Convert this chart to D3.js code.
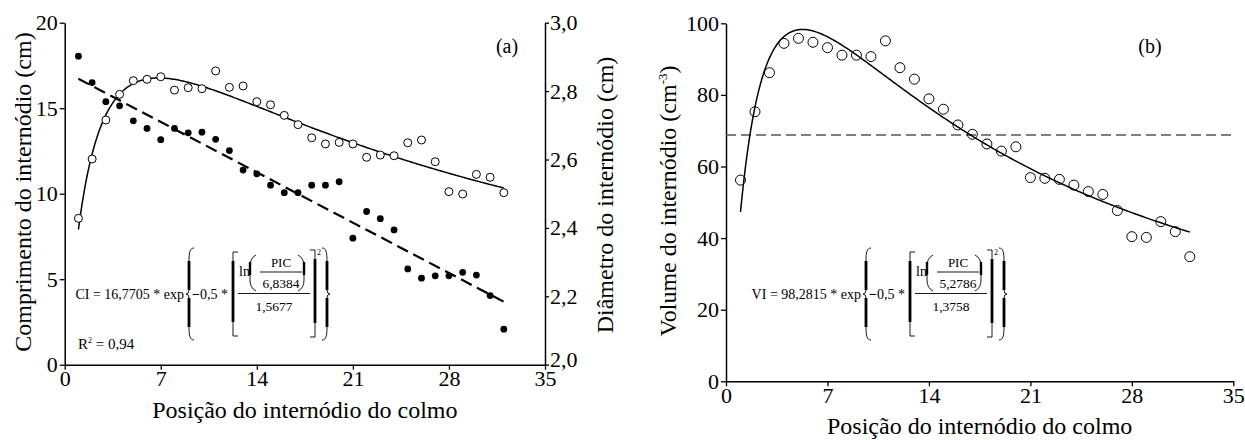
<!DOCTYPE html>
<html><head><meta charset="utf-8">
<script src="https://cdn.jsdelivr.net/npm/d3@7"></script>
<style>
body{margin:0;background:#fff}
text{font-family:"Liberation Serif","Times New Roman",serif;fill:#000}
</style>
</head><body>
<svg id="chart" width="1245" height="440"></svg>
<script>
// Internode position along the culm (1 = base)
const positions = [1,2,3,4,5,6,7,8,9,10,11,12,13,14,15,16,17,18,19,20,21,22,23,24,25,26,27,28,29,30,31,32];
// Internode length (cm) - left axis of panel (a)
const lengthCm = [8.56,12.03,14.31,15.81,16.61,16.69,16.84,16.06,16.20,16.14,17.18,16.22,16.30,15.38,15.20,14.58,
                  14.04,13.27,12.91,13.00,12.91,12.13,12.26,12.22,12.98,13.14,11.87,10.12,9.98,11.13,10.96,10.06];
// Internode diameter (cm) - right axis of panel (a)
const diameterCm = [2.902,2.825,2.769,2.757,2.713,2.691,2.658,2.691,2.678,2.680,2.659,2.626,2.569,2.558,2.525,2.503,
                    2.503,2.525,2.525,2.535,2.370,2.448,2.427,2.394,2.280,2.253,2.260,2.260,2.270,2.262,2.202,2.104];
// Internode volume (cm3) - panel (b)
const volumeCm3 = [56.2,75.3,86.2,94.4,95.8,94.7,93.2,91.1,91.1,90.7,95.1,87.6,84.4,78.9,76.0,71.6,
                   69.0,66.3,64.3,65.5,56.9,56.7,56.4,54.8,53.0,52.2,47.7,40.4,40.2,44.6,41.8,34.8];

// Log-normal fits: [a, x0, b] in y = a*exp(-0.5*(ln(x/x0)/b)^2)
const lengthFit = [16.7705, 6.8384, 1.5677];
const volumeFit = [98.2815, 5.2786, 1.3758];
// Linear fit of diameter, value at first and last position
const diameterFitEnds = [2.836, 2.184];
// Reference level of volume
const volumeRef = 68.8;

const xTicks = [0,7,14,21,28,35];
const lengthTicks = [0,5,10,15,20];
const diameterTicks = [2.0,2.2,2.4,2.6,2.8,3.0];
const volumeTicks = [0,20,40,60,80,100];

const svg = d3.select("#chart");
const comma = f => (v => d3.format(f)(v).replace(".", ","));
const logNormal = p => (x => p[0]*Math.exp(-0.5*Math.pow(Math.log(x/p[1])/p[2],2)));
const curveX = d3.range(1, 32.001, 0.1);
const TITLE = 24, TICK = 22;

function styleAxis(g){
  g.selectAll("path.domain").attr("stroke","#000").attr("stroke-width",1.5);
  g.selectAll(".tick line").attr("stroke","#000").attr("stroke-width",1.3);
  g.selectAll(".tick text").attr("font-size",TICK).attr("font-family",'"Liberation Serif",serif').attr("fill","#000");
}

// ---------- equation drawing helpers ----------
function brace(g, x, top, bot, dir){
  const mid=(top+bot)/2, h=5*dir;
  g.append("path").attr("fill","none").attr("stroke","#000").attr("stroke-width",0.9)
    .attr("d",`M${x+h},${top} C${x+h*0.2},${top} ${x},${top+4} ${x},${top+13}
               M${x},${mid-4} Q${x},${mid} ${x-3*dir},${mid} Q${x},${mid} ${x},${mid+4}
               M${x},${bot-13} C${x},${bot-4} ${x+h*0.2},${bot} ${x+h},${bot}`);
  g.append("path").attr("fill","none").attr("stroke","#000").attr("stroke-width",2.8)
    .attr("d",`M${x},${top+13} L${x},${mid-4} M${x},${mid+4} L${x},${bot-13}`);
}
function bracket(g, x, top, bot, dir){
  g.append("path").attr("fill","none").attr("stroke","#000").attr("stroke-width",0.9)
    .attr("d",`M${x+5*dir},${top} L${x},${top} L${x},${bot} L${x+5*dir},${bot}`);
  g.append("path").attr("fill","none").attr("stroke","#000").attr("stroke-width",2.8)
    .attr("d",`M${x},${top+9} L${x},${bot-14}`);
}
function paren(g, x, top, bot, dir){
  const mid=(top+bot)/2;
  g.append("path").attr("fill","none").attr("stroke","#000").attr("stroke-width",0.9)
    .attr("d",`M${x+6*dir},${top} Q${x},${top+3} ${x},${top+11} L${x},${bot-11} Q${x},${bot-3} ${x+6*dir},${bot}`);
  g.append("path").attr("fill","none").attr("stroke","#000").attr("stroke-width",2.4)
    .attr("d",`M${x},${top+7} L${x},${mid+2}`);
}
function equation(g, prefix, bx, p){
  const top=248, bot=340, mid=294;
  g.append("text").attr("x",bx-5).attr("y",mid+5).attr("text-anchor","end").attr("font-size",14).text(prefix);
  brace(g, bx, top, bot, 1);
  const t = g.append("text").attr("x",bx+3).attr("y",mid+5).attr("font-size",14);
  t.append("tspan").attr("font-weight","bold").text("−");
  t.append("tspan").text("0,5 *");
  bracket(g, bx+44, 252, 336, 1);
  g.append("text").attr("x",bx+50).attr("y",276).attr("font-size",14).text("ln");
  paren(g, bx+61, 255, 291, 1);
  g.append("text").attr("x",bx+92).attr("y",267).attr("text-anchor","middle").attr("font-size",13).text("PIC");
  g.append("line").attr("x1",bx+71).attr("x2",bx+113).attr("y1",272).attr("y2",272).attr("stroke","#000").attr("stroke-width",0.9);
  g.append("text").attr("x",bx+92).attr("y",287.5).attr("text-anchor","middle").attr("font-size",13.5).text(comma(".4f")(p[1]));
  paren(g, bx+115, 255, 291, -1);
  g.append("line").attr("x1",bx+49).attr("x2",bx+121).attr("y1",293.5).attr("y2",293.5).attr("stroke","#000").attr("stroke-width",0.9);
  g.append("text").attr("x",bx+85).attr("y",311).attr("text-anchor","middle").attr("font-size",13.5).text(comma(".4f")(p[2]));
  bracket(g, bx+126, 250, 337, -1);
  g.append("text").attr("x",bx+128).attr("y",255).attr("font-size",8).text("2");
  brace(g, bx+138, 248, 340, -1);
}

// ---------- Panel (a) ----------
{
  const x = d3.scaleLinear().domain([0,35]).range([64.7,545]);
  const yL = d3.scaleLinear().domain([0,20]).range([364.7,22.7]);
  const yR = d3.scaleLinear().domain([2,3]).range([364.7,22.7]);
  const g = svg.append("g");

  g.append("g").attr("transform",`translate(0,${yL(0)})`)
    .call(d3.axisBottom(x).tickValues(xTicks).tickSize(5).tickSizeOuter(0).tickPadding(1)).call(styleAxis);
  g.append("g").attr("transform",`translate(${x(0)},0)`)
    .call(d3.axisLeft(yL).tickValues(lengthTicks).tickSize(5).tickSizeOuter(0).tickPadding(2)).call(styleAxis);
  const right = g.append("g").attr("transform",`translate(${x(35)},0)`)
    .call(d3.axisRight(yR).tickValues(diameterTicks).tickFormat(comma(".1f")).tickSize(4).tickSizeOuter(0).tickPadding(1)).call(styleAxis);
  // lift the bottom label a little so it clears the "35" below it
  right.selectAll(".tick text").filter(d => d === 2).attr("dy","0.1em");

  // diameter linear fit
  g.append("path").datum([positions[0], positions[positions.length-1]])
    .attr("fill","none").attr("stroke","#000").attr("stroke-width",2.2).attr("stroke-dasharray","12,6")
    .attr("d", d3.line().x(d=>x(d)).y((d,i)=>yR(diameterFitEnds[i])));
  // length fit
  g.append("path").datum(curveX).attr("fill","none").attr("stroke","#000").attr("stroke-width",1.5)
    .attr("d", d3.line().x(d=>x(d)).y(d=>yL(logNormal(lengthFit)(d))));

  g.selectAll("circle.len").data(positions).join("circle").attr("class","len")
    .attr("cx",d=>x(d)).attr("cy",(d,i)=>yL(lengthCm[i])).attr("r",4)
    .attr("fill","#fff").attr("stroke","#000").attr("stroke-width",1);
  g.selectAll("circle.dia").data(positions).join("circle").attr("class","dia")
    .attr("cx",d=>x(d)).attr("cy",(d,i)=>yR(diameterCm[i])).attr("r",3.4).attr("fill","#000");

  g.append("text").attr("x",(x(0)+x(35))/2).attr("y",418).attr("text-anchor","middle").attr("font-size",TITLE)
    .text("Posição do internódio do colmo");
  g.append("text").attr("transform","translate(31,192) rotate(-90)").attr("text-anchor","middle").attr("font-size",TITLE)
    .text("Comprimento do internódio (cm)");
  g.append("text").attr("transform","translate(613,195) rotate(-90)").attr("text-anchor","middle").attr("font-size",TITLE)
    .text("Diâmetro do internódio (cm)");
  g.append("text").attr("x",507).attr("y",53).attr("text-anchor","middle").attr("font-size",20).text("(a)");

  equation(g, "CI = 16,7705 * exp", 189, lengthFit);
  const r = g.append("text").attr("x",78).attr("y",349).attr("font-size",15);
  r.append("tspan").text("R");
  r.append("tspan").attr("dy",-6).attr("font-size",8).text("2");
  r.append("tspan").attr("dy",6).text(" = 0,94");
}

// ---------- Panel (b) ----------
{
  const x = d3.scaleLinear().domain([0,35]).range([726,1233.3]);
  const y = d3.scaleLinear().domain([0,100]).range([381.3,23.3]);
  const g = svg.append("g");

  g.append("g").attr("transform",`translate(0,${y(0)})`)
    .call(d3.axisBottom(x).tickValues(xTicks).tickSize(5).tickSizeOuter(0).tickPadding(1)).call(styleAxis);
  g.append("g").attr("transform",`translate(${x(0)},0)`)
    .call(d3.axisLeft(y).tickValues(volumeTicks).tickSize(5).tickSizeOuter(0).tickPadding(2)).call(styleAxis);

  g.append("line").attr("x1",x(0)).attr("x2",x(35)).attr("y1",y(volumeRef)).attr("y2",y(volumeRef))
    .attr("stroke","#555").attr("stroke-width",1.3).attr("stroke-dasharray","10,5");
  g.append("path").datum(curveX).attr("fill","none").attr("stroke","#000").attr("stroke-width",1.5)
    .attr("d", d3.line().x(d=>x(d)).y(d=>y(logNormal(volumeFit)(d))));
  g.selectAll("circle.vol").data(positions).join("circle").attr("class","vol")
    .attr("cx",d=>x(d)).attr("cy",(d,i)=>y(volumeCm3[i])).attr("r",5)
    .attr("fill","none").attr("stroke","#000").attr("stroke-width",1);

  g.append("text").attr("x",(x(0)+x(35))/2).attr("y",434).attr("text-anchor","middle").attr("font-size",TITLE)
    .text("Posição do internódio do colmo");
  const yl = g.append("text").attr("transform","translate(676,201) rotate(-90)").attr("text-anchor","middle").attr("font-size",TITLE);
  yl.append("tspan").text("Volume do internódio (cm");
  yl.append("tspan").attr("dy",-9).attr("font-size",13).text("-3");
  yl.append("tspan").attr("dy",9).text(")");
  g.append("text").attr("x",1150).attr("y",53).attr("text-anchor","middle").attr("font-size",20).text("(b)");

  equation(g, "VI = 98,2815 * exp", 866, volumeFit);
}
</script>
</body></html>
